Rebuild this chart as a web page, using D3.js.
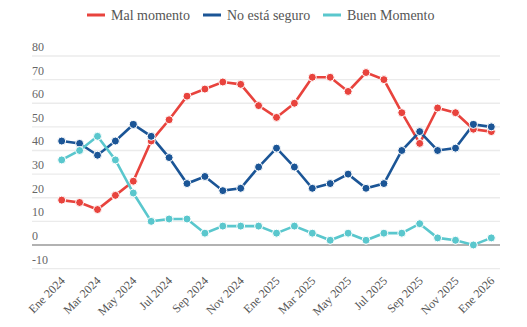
<!DOCTYPE html>
<html><head><meta charset="utf-8">
<script src="https://cdn.jsdelivr.net/npm/d3@7"></script>
<style>body{margin:0;background:#fff}svg{display:block}</style>
</head><body>
<script>
const months = ["Ene 2024","Feb 2024","Mar 2024","Abr 2024","May 2024","Jun 2024","Jul 2024","Ago 2024","Sep 2024","Oct 2024","Nov 2024","Dic 2024","Ene 2025","Feb 2025","Mar 2025","Abr 2025","May 2025","Jun 2025","Jul 2025","Ago 2025","Sep 2025","Oct 2025","Nov 2025","Dic 2025","Ene 2026"];
const malMomento = [19,18,15,21,27,44,53,63,66,69,68,59,54,60,71,71,65,73,70,56,43,58,56,49,48];
const noSeguro = [44,43,38,44,51,46,37,26,29,23,24,33,41,33,24,26,30,24,26,40,48,40,41,51,50];
const buenMomento = [36,40,46,36,22,10,11,11,5,8,8,8,5,8,5,2,5,2,5,5,9,3,2,0,3];
const yTicks = [80,70,60,50,40,30,20,10,0,-10];
const seriesNames = ["Mal momento","No está seguro","Buen Momento"];
const colors = ["#e8433d","#1b5596","#5ac7cd"];

const W=527,H=327;
const svg=d3.select("body").append("svg").attr("width",W).attr("height",H);
const font="'Liberation Serif', serif";
const x=d3.scalePoint().domain(months).range([61.7,491.3]);
const y=d3.scaleLinear().domain([-10,80]).range([268.6,56]);
const gx0=32,gx1=500;

// grid
const g=svg.append("g");
yTicks.forEach(t=>{
  g.append("line").attr("x1",gx0).attr("x2",gx1).attr("y1",y(t)).attr("y2",y(t))
   .attr("stroke",t===0?"#999":"#ebebeb").attr("stroke-width",t===0?1.5:1.3);
  g.append("text").attr("x",gx0).attr("y",y(t)-5).text(t)
   .attr("font-family",font).attr("font-size",12).attr("fill","#666");
});

// x labels
months.forEach((m,i)=>{
  if(i%2) return;
  svg.append("text").attr("transform",`translate(${x(m)+4},${y(-10)+13}) rotate(-45)`)
   .attr("text-anchor","end").attr("font-family",font).attr("font-size",12).attr("fill","#555").text(m);
});

// series
const data=[malMomento,noSeguro,buenMomento];
const line=d3.line().x((d,i)=>x(months[i])).y(d=>y(d));
data.forEach((s,k)=>{
  svg.append("path").datum(s).attr("d",line).attr("fill","none")
   .attr("stroke",colors[k]).attr("stroke-width",2.6);
});
data.forEach((s,k)=>{
  svg.append("g").selectAll("circle").data(s).join("circle")
   .attr("cx",(d,i)=>x(months[i])).attr("cy",d=>y(d)).attr("r",4)
   .attr("fill",colors[k]).attr("stroke","#fff").attr("stroke-width",1);
});

// legend
const lx=[87,203,323];
seriesNames.forEach((n,k)=>{
  svg.append("line").attr("x1",lx[k]).attr("x2",lx[k]+18).attr("y1",15).attr("y2",15)
   .attr("stroke",colors[k]).attr("stroke-width",3);
  svg.append("text").attr("x",lx[k]+24).attr("y",20).text(n)
   .attr("font-family",font).attr("font-size",14).attr("fill","#555");
});
</script>
</body></html>
